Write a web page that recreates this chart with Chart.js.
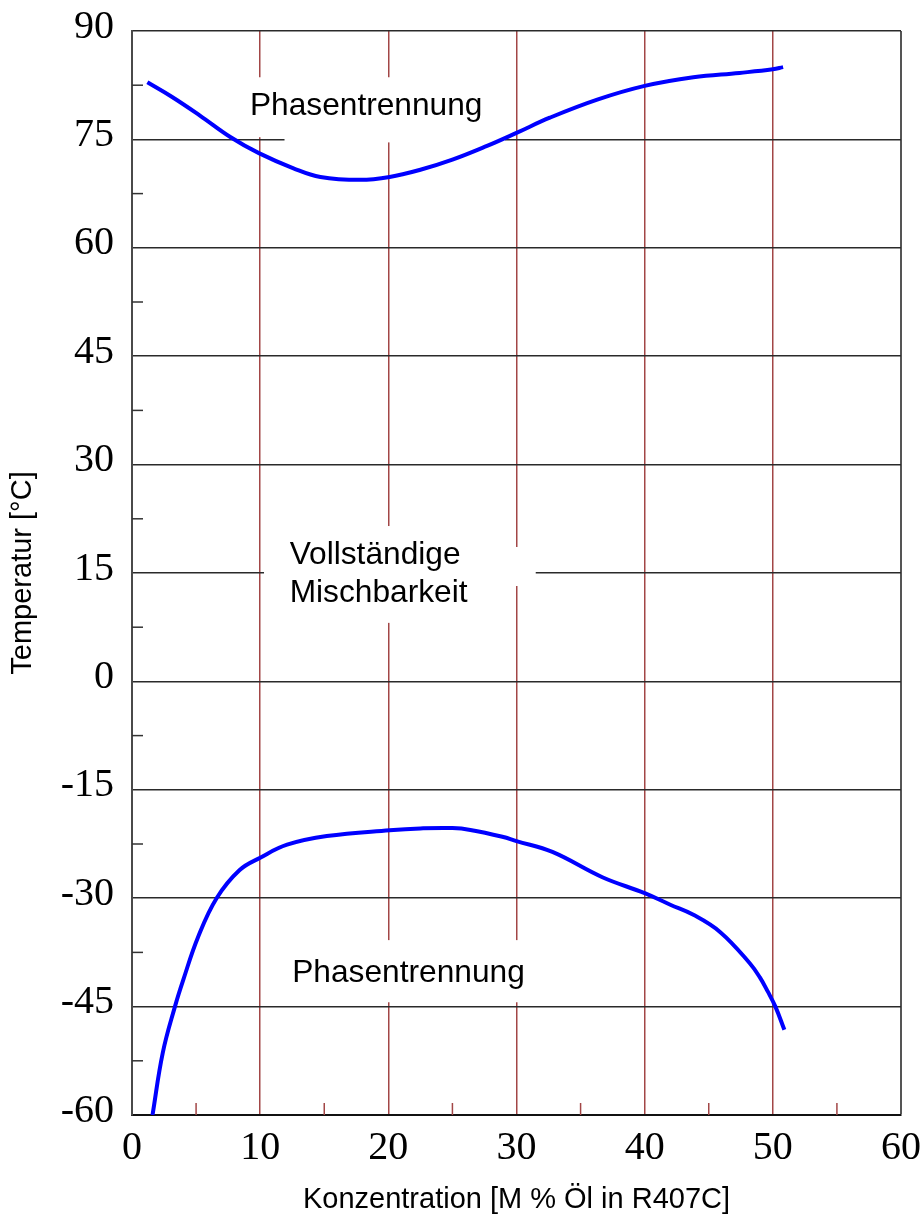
<!DOCTYPE html>
<html><head><meta charset="utf-8">
<script src="https://cdn.jsdelivr.net/npm/chart.js@4.4.0/dist/chart.umd.min.js"></script>
<style>html,body{margin:0;padding:0;background:#fff}</style>
</head><body>
<canvas id="c" width="924" height="1214" style="display:block;width:924px;height:1214px"></canvas>
<script>
// ---- data ----
const upperX = [1.2, 3.1, 5.3, 7.7, 9.9, 12.6, 14.7, 17.8, 20.1, 22.5, 25.0, 27.7, 30.0, 32.6, 36.3, 40.0, 43.8, 47.4, 50.0, 50.8];
const upperY = [82.9, 80.9, 78.3, 75.3, 73.1, 71.0, 69.8, 69.4, 69.8, 70.8, 72.2, 74.1, 75.9, 78.0, 80.5, 82.4, 83.6, 84.2, 84.7, 85.0];
const lowerX = [1.6, 2.4, 3.35, 4.0, 5.15, 6.6, 8.4, 10.0, 12.1, 15.2, 20.1, 22.5, 25.0, 26.4, 28.9, 30.0, 32.8, 36.7, 40.0, 42.0, 43.8, 45.9, 48.2, 49.0, 49.6, 50.2, 50.9];
const lowerY = [-60.0, -51.4, -45.0, -41.3, -35.4, -30.0, -26.1, -24.4, -22.6, -21.4, -20.6, -20.35, -20.3, -20.55, -21.5, -22.1, -23.6, -27.1, -29.3, -30.9, -32.3, -34.7, -39.0, -41.0, -42.9, -45.0, -48.2];
const yTickValues = [90, 75, 60, 45, 30, 15, 0, -15, -30, -45, -60];
const xTickValues = [0, 10, 20, 30, 40, 50, 60];
const yMinorValues = [82.5, 67.5, 52.5, 37.5, 22.5, 7.5, -7.5, -22.5, -37.5, -52.5];
const xMinorValues = [5, 15, 25, 35, 45, 55];
const xTitle = 'Konzentration [M % Öl in R407C]';
const yTitle = 'Temperatur [°C]';
const labelTexts = ['Phasentrennung', 'Vollständige', 'Mischbarkeit', 'Phasentrennung'];
const labelX = [9.2, 12.3, 12.3, 12.5];
const labelY = [78.4, 16.25, 11.0, -41.6];

// gaps in grid lines behind the labels (value coordinates)
const gapsV = [ // vertical grid line at x, from y1 to y2
  {at: 10, from: 83.6, to: 75.3},
  {at: 20, from: 83.6, to: 74.7},
  {at: 20, from: 21.5, to: 8.1},
  {at: 30, from: 18.6, to: 13.2},
  {at: 20, from: -35.8, to: -44.4},
  {at: 30, from: -35.8, to: -44.4}
];
const gapsH = [ // horizontal grid line at y, from x1 to x2
  {at: 75, from: 11.9, to: 29.1},
  {at: 15, from: 10.3, to: 31.5}
];

const upper = upperX.map((x, i) => ({x, y: upperY[i]}));
const lower = lowerX.map((x, i) => ({x, y: lowerY[i]}));

const SANS = '"Liberation Sans", Arial, sans-serif';
const SERIF = '"Liberation Serif", "Times New Roman", serif';
const BROWN = '#a24646';

const overlay = {
  id: 'overlay',
  beforeDatasetsDraw(chart) {
    const {ctx, scales: {x, y}} = chart;
    ctx.save();
    ctx.fillStyle = '#fff';
    gapsV.forEach(g => {
      const px = x.getPixelForValue(g.at);
      const a = y.getPixelForValue(g.from), b = y.getPixelForValue(g.to);
      ctx.fillRect(px - 3, Math.min(a, b), 6, Math.abs(b - a));
    });
    gapsH.forEach(g => {
      const py = y.getPixelForValue(g.at);
      const a = x.getPixelForValue(g.from), b = x.getPixelForValue(g.to);
      ctx.fillRect(Math.min(a, b), py - 3, Math.abs(b - a), 6);
    });
    // minor ticks
    ctx.lineWidth = 1.5;
    ctx.strokeStyle = '#333';
    yMinorValues.forEach(v => {
      const py = y.getPixelForValue(v);
      ctx.beginPath(); ctx.moveTo(x.left, py); ctx.lineTo(x.left + 11, py); ctx.stroke();
    });
    ctx.strokeStyle = BROWN;
    xMinorValues.forEach(v => {
      const px = x.getPixelForValue(v);
      ctx.beginPath(); ctx.moveTo(px, y.bottom); ctx.lineTo(px, y.bottom - 12); ctx.stroke();
    });
    ctx.restore();
  },
  afterDatasetsDraw(chart) {
    const {ctx, scales: {x, y}} = chart;
    ctx.save();
    ctx.fillStyle = '#000';
    ctx.font = '31.7px ' + SANS;
    ctx.textAlign = 'left';
    ctx.textBaseline = 'alphabetic';
    labelTexts.forEach((t, i) => {
      ctx.fillText(t, x.getPixelForValue(labelX[i]), y.getPixelForValue(labelY[i]));
    });
    ctx.restore();
  }
};

new Chart(document.getElementById('c'), {
  type: 'line',
  data: {
    datasets: [
      {data: upper, borderColor: '#0000ff', borderWidth: 4, pointRadius: 0, tension: 0.4, fill: false},
      {data: lower, borderColor: '#0000ff', borderWidth: 4, pointRadius: 0, tension: 0.4, fill: false}
    ]
  },
  options: {
    responsive: false,
    animation: false,
    devicePixelRatio: 1,
    layout: {padding: {left: 0, top: 31, right: 23, bottom: 0}},
    plugins: {legend: {display: false}, tooltip: {enabled: false}},
    scales: {
      x: {
        type: 'linear', min: 0, max: 60,
        afterBuildTicks(s) { s.ticks = xTickValues.map(v => ({value: v})); },
        afterFit(s) { s.height = 99; s.paddingLeft = 0; s.paddingRight = 0; },
        ticks: {font: {family: SERIF, size: 40}, color: '#000', padding: 9, callback: v => String(v), maxRotation: 0, autoSkip: false},
        grid: {
          drawTicks: false,
          color: c => c.tick.value === 0 ? 'rgba(0,0,0,0)' : (c.tick.value === 60 ? '#555' : BROWN),
          lineWidth: c => c.tick.value === 60 ? 2 : 1.5
        },
        border: {display: true, color: '#111', width: 2},
        title: {display: true, text: xTitle, color: '#000', font: {family: SANS, size: 29, lineHeight: 1}, padding: {top: 0, bottom: 0}}
      },
      y: {
        type: 'linear', min: -60, max: 90,
        afterBuildTicks(s) { s.ticks = yTickValues.map(v => ({value: v})); },
        afterFit(s) { s.width = 132; s.paddingTop = 0; s.paddingBottom = 0; },
        ticks: {font: {family: SERIF, size: 40}, color: '#000', padding: 18, labelOffset: -4, callback: v => String(v), autoSkip: false},
        grid: {
          drawTicks: false,
          color: c => c.tick.value === -60 ? 'rgba(0,0,0,0)' : '#2a2a2a',
          lineWidth: 1.5
        },
        border: {display: true, color: '#4a4a4a', width: 2},
        title: {display: true, text: yTitle, color: '#000', font: {family: SANS, size: 29, lineHeight: 1}, padding: {top: 8, bottom: 0}}
      }
    }
  },
  plugins: [overlay]
});
</script>
</body></html>
